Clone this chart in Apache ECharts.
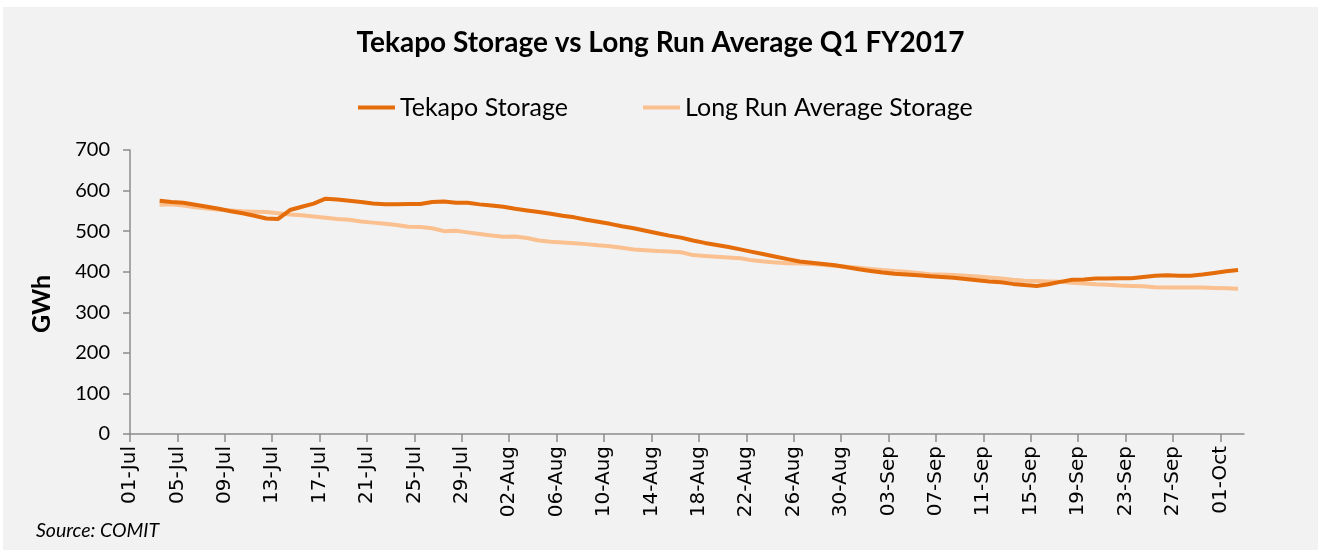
<!DOCTYPE html>
<html>
<head>
<meta charset="utf-8">
<title>Tekapo Storage vs Long Run Average Q1 FY2017</title>
<script src="https://cdn.jsdelivr.net/npm/echarts@6/dist/echarts.min.js"></script>
<style>
  html, body {
    margin: 0;
    padding: 0;
    background: #ffffff;
  }
  #chart {
    position: absolute;
    left: 3px;
    top: 7px;
    width: 1315px;
    height: 543px;
    background: #f2f2f2;
  }
</style>
</head>
<body>
<div id="chart"></div>
<script>
// one slot per day on the date axis, 01-Jul to 02-Oct
const days = [
  '01-Jul', '02-Jul', '03-Jul', '04-Jul', '05-Jul', '06-Jul', '07-Jul', '08-Jul', '09-Jul', '10-Jul',
  '11-Jul', '12-Jul', '13-Jul', '14-Jul', '15-Jul', '16-Jul', '17-Jul', '18-Jul', '19-Jul', '20-Jul',
  '21-Jul', '22-Jul', '23-Jul', '24-Jul', '25-Jul', '26-Jul', '27-Jul', '28-Jul', '29-Jul', '30-Jul',
  '31-Jul', '01-Aug', '02-Aug', '03-Aug', '04-Aug', '05-Aug', '06-Aug', '07-Aug', '08-Aug', '09-Aug',
  '10-Aug', '11-Aug', '12-Aug', '13-Aug', '14-Aug', '15-Aug', '16-Aug', '17-Aug', '18-Aug', '19-Aug',
  '20-Aug', '21-Aug', '22-Aug', '23-Aug', '24-Aug', '25-Aug', '26-Aug', '27-Aug', '28-Aug', '29-Aug',
  '30-Aug', '31-Aug', '01-Sep', '02-Sep', '03-Sep', '04-Sep', '05-Sep', '06-Sep', '07-Sep', '08-Sep',
  '09-Sep', '10-Sep', '11-Sep', '12-Sep', '13-Sep', '14-Sep', '15-Sep', '16-Sep', '17-Sep', '18-Sep',
  '19-Sep', '20-Sep', '21-Sep', '22-Sep', '23-Sep', '24-Sep', '25-Sep', '26-Sep', '27-Sep', '28-Sep',
  '29-Sep', '30-Sep', '01-Oct', '02-Oct'
]

// GWh, aligned with days (no data for the first two days)
const tekapo = [
  null, null, 575, 572, 570, 565, 560, 555, 549, 544,
  538, 531, 530, 552, 560, 568, 580, 578, 575, 572,
  568, 566, 566, 567, 567, 572, 573, 570, 570, 566,
  563, 560, 555, 551, 547, 543, 538, 534, 528, 523,
  518, 512, 507, 501, 495, 489, 484, 477, 471, 466,
  461, 455, 449, 443, 437, 431, 425, 422, 419, 416,
  411, 406, 402, 398, 395, 393, 391, 389, 387, 385,
  382, 379, 376, 374, 370, 367, 365, 369, 375, 380,
  381, 383, 383, 384, 384, 387, 390, 391, 390, 390,
  393, 397, 401, 404
]

const longRunAverage = [
  null, null, 565, 566, 563, 559, 556, 553, 551, 549,
  548, 547, 544, 541, 539, 536, 533, 530, 528, 524,
  521, 518, 515, 511, 510, 507, 500, 501, 497, 493,
  489, 486, 487, 483, 477, 474, 472, 470, 468, 465,
  463, 459, 455, 453, 451, 450, 448, 441, 439, 437,
  435, 433, 428, 425, 423, 421, 420, 419, 417, 414,
  412, 410, 407, 404, 402, 400, 397, 394, 393, 392,
  390, 388, 386, 383, 380, 378, 377, 376, 375, 373,
  371, 369, 368, 366, 365, 364, 362, 361, 361, 361,
  361, 360, 359, 358
]

const yTicks = [0, 100, 200, 300, 400, 500, 600, 700]

const labelStep = 4
const tickDays = []
for (let i = 0; i < days.length; i += labelStep) {
  tickDays.push(i)
}

// each point sits in the middle of its day slot, like a date axis
const toPoints = values => values.map((v, i) => [i + 0.5, v])

const chart = echarts.init(document.getElementById('chart'))

const option = {
  backgroundColor: '#f2f2f2',
  animation: false,
  textStyle: {
    fontFamily: 'Lato'
  },
  title: [
    {
      text: 'Tekapo Storage vs Long Run Average Q1 FY2017',
      left: 'center',
      top: 17,
      textStyle: {
        fontFamily: 'Lato',
        fontWeight: 'bold',
        fontSize: 28,
        color: '#000000'
      }
    },
    {
      text: 'Source: COMIT',
      left: 28,
      top: 509,
      textStyle: {
        fontFamily: 'Lato',
        fontStyle: 'italic',
        fontWeight: 'normal',
        fontSize: 19.5,
        color: '#000000'
      }
    }
  ],
  legend: {
    left: 350,
    top: 83,
    itemGap: 75,
    itemWidth: 37,
    itemHeight: 4,
    icon: 'rect',
    textStyle: {
      fontFamily: 'Lato',
      fontSize: 25,
      color: '#000000'
    },
    data: ['Tekapo Storage', 'Long Run Average Storage']
  },
  grid: {
    left: 127,
    right: 74,
    top: 143,
    bottom: 116,
    containLabel: false
  },
  xAxis: {
    type: 'value',
    min: 0,
    max: days.length,
    interval: labelStep,
    splitLine: { show: false },
    axisLine: {
      show: true,
      lineStyle: { color: '#8c8c8c', width: 1.5 }
    },
    axisTick: {
      show: true,
      length: 8,
      customValues: tickDays,
      lineStyle: { color: '#8c8c8c', width: 1.5 }
    },
    axisLabel: {
      rotate: 90,
      margin: 12,
      fontFamily: 'DejaVu Sans',
      fontSize: 20,
      color: '#000000',
      customValues: tickDays,
      formatter: v => days[v] || ''
    }
  },
  yAxis: {
    type: 'value',
    min: 0,
    max: 700,
    interval: 100,
    name: 'GWh',
    nameLocation: 'middle',
    nameRotate: 90,
    nameGap: 76,
    nameTextStyle: {
      fontFamily: 'Lato',
      fontWeight: 'bold',
      fontSize: 25,
      color: '#000000',
      padding: [0, 24, 0, 0]
    },
    splitLine: { show: false },
    axisLine: {
      show: true,
      lineStyle: { color: '#8c8c8c', width: 1.5 }
    },
    axisTick: {
      show: true,
      length: 7,
      lineStyle: { color: '#8c8c8c', width: 1.5 }
    },
    axisLabel: {
      margin: 20,
      fontFamily: 'Lato',
      fontSize: 20,
      color: '#000000',
      formatter: v => (yTicks.indexOf(v) >= 0 ? String(v) : '')
    }
  },
  series: [
    {
      name: 'Tekapo Storage',
      type: 'line',
      data: toPoints(tekapo),
      showSymbol: false,
      symbol: 'none',
      connectNulls: false,
      itemStyle: { color: '#e46c0a' },
      lineStyle: { color: '#e46c0a', width: 4 },
      z: 3
    },
    {
      name: 'Long Run Average Storage',
      type: 'line',
      data: toPoints(longRunAverage),
      showSymbol: false,
      symbol: 'none',
      connectNulls: false,
      itemStyle: { color: '#fac090' },
      lineStyle: { color: '#fac090', width: 4 },
      z: 2
    }
  ]
}

chart.setOption(option)
window.addEventListener('resize', () => chart.resize())
</script>
</body>
</html>
